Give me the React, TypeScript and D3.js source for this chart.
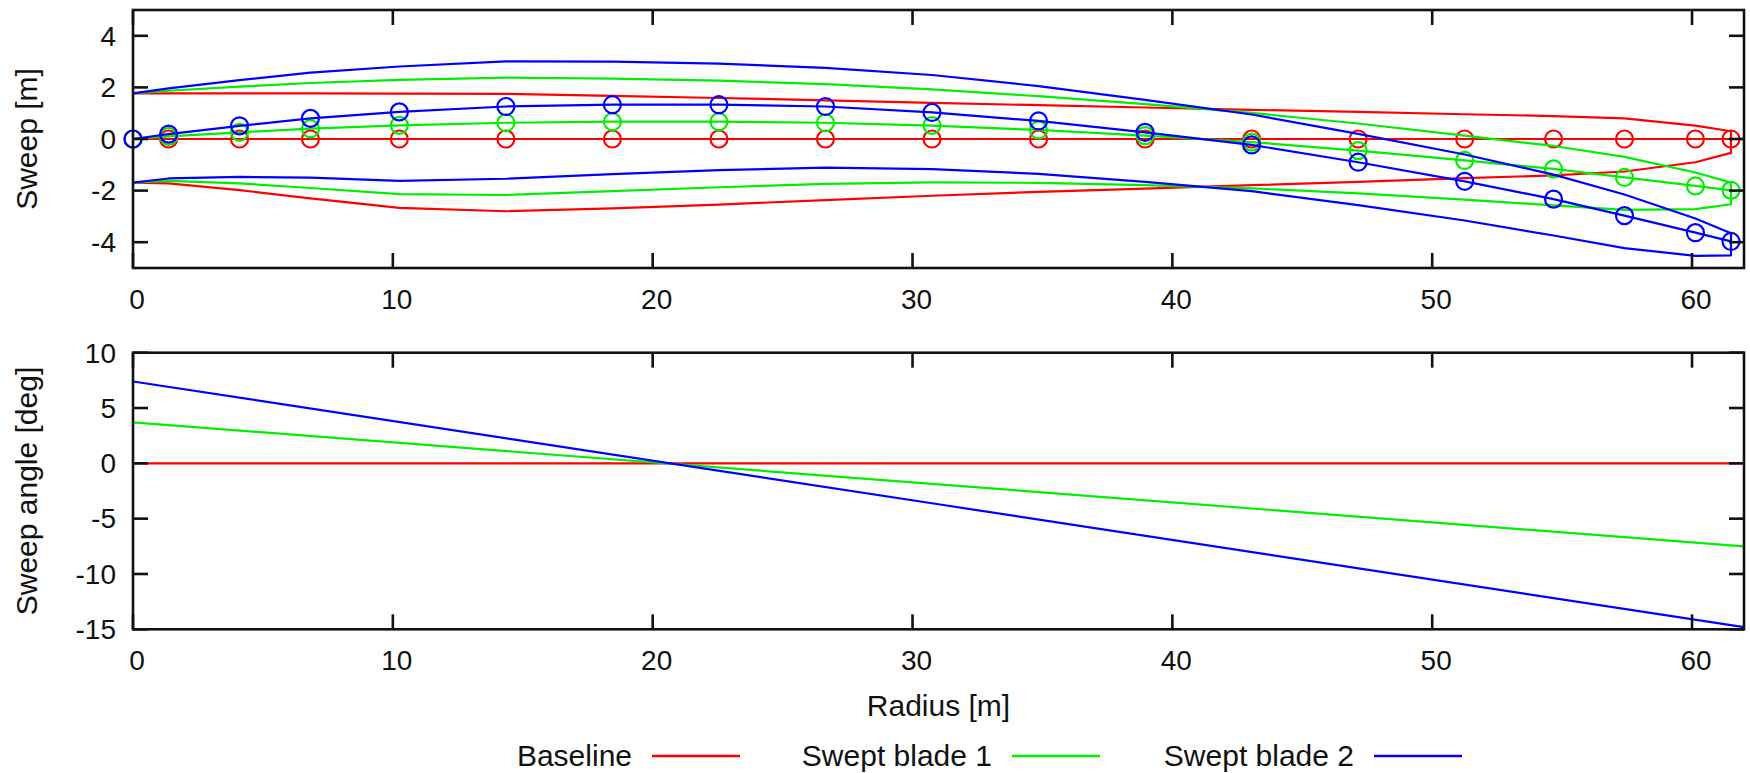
import React from 'react';
import * as d3 from 'd3';

// Radial stations [m]
const stations = [0, 1.37, 4.1, 6.83, 10.25, 14.35, 18.45, 22.55, 26.65, 30.75, 34.85, 38.95, 43.05, 47.15, 51.25, 54.67, 57.4, 60.13, 61.5];

// Baseline blade
const baseUpper = [1.77, 1.77, 1.77, 1.77, 1.76, 1.75, 1.67, 1.59, 1.5, 1.4, 1.31, 1.22, 1.13, 1.05, 0.96, 0.89, 0.8, 0.52, 0.3];
const baseCenter = [0, 0, 0, 0, 0, 0, 0, 0, 0, 0, 0, 0, 0, 0, 0, 0, 0, 0, 0];
const baseLower = [-1.69, -1.72, -1.98, -2.3, -2.67, -2.8, -2.69, -2.54, -2.37, -2.2, -2.05, -1.92, -1.79, -1.66, -1.52, -1.41, -1.26, -0.9, -0.54];

// Swept blade 1
const s1Upper = [1.77, 1.87, 2.03, 2.17, 2.29, 2.38, 2.34, 2.26, 2.13, 1.92, 1.66, 1.35, 1.01, 0.6, 0.13, -0.27, -0.69, -1.3, -1.69];
const s1Center = [0, 0.1, 0.26, 0.4, 0.53, 0.63, 0.67, 0.67, 0.63, 0.52, 0.35, 0.13, -0.12, -0.45, -0.83, -1.16, -1.49, -1.82, -1.99];
const s1Lower = [-1.69, -1.62, -1.72, -1.9, -2.14, -2.17, -2.02, -1.87, -1.74, -1.68, -1.7, -1.79, -1.91, -2.11, -2.35, -2.57, -2.75, -2.72, -2.53];

// Swept blade 2
const s2Upper = [1.77, 1.96, 2.28, 2.57, 2.81, 3.01, 3.0, 2.92, 2.76, 2.48, 2.05, 1.52, 0.95, 0.2, -0.6, -1.38, -2.15, -3.08, -3.65];
const s2Center = [0, 0.19, 0.51, 0.8, 1.05, 1.26, 1.33, 1.33, 1.26, 1.03, 0.7, 0.26, -0.23, -0.9, -1.64, -2.33, -2.97, -3.63, -3.97];
const s2Lower = [-1.69, -1.53, -1.47, -1.5, -1.62, -1.54, -1.36, -1.21, -1.11, -1.17, -1.35, -1.66, -2.02, -2.56, -3.16, -3.74, -4.23, -4.53, -4.51];

// Sweep angle [deg]
const angleR = [0, 31, 62];
const baseAngle = [0, 0, 0];
const s1Angle = [3.7, -1.9, -7.5];
const s2Angle = [7.4, -3.7, -14.8];

const xTicks = [0, 10, 20, 30, 40, 50, 60];
const y1Ticks = [-4, -2, 0, 2, 4];
const y2Ticks = [-15, -10, -5, 0, 5, 10];

const seriesNames = ['Baseline', 'Swept blade 1', 'Swept blade 2'];
const colors = ['#ff0000', '#00ee00', '#0000ff'];

const FONT = '"Liberation Sans", Arial, Helvetica, sans-serif';
const TICK_FS = 28;
const LABEL_FS = 30;

export default function App() {
  const W = 1750, H = 773;
  const L = 133, R = 1744;
  const p1 = { t: 10, b: 268 };
  const p2 = { t: 352.7, b: 629.3 };

  const x = d3.scaleLinear().domain([0, 62]).range([L, R]);
  const y1 = d3.scaleLinear().domain([-5, 5]).range([p1.b, p1.t]);
  const y2 = d3.scaleLinear().domain([-15, 10]).range([p2.b, p2.t]);

  const line1 = d3.line<[number, number]>().x(d => x(d[0])).y(d => y1(d[1]));
  const line2 = d3.line<[number, number]>().x(d => x(d[0])).y(d => y2(d[1]));

  const blades = [
    { u: baseUpper, c: baseCenter, l: baseLower },
    { u: s1Upper, c: s1Center, l: s1Lower },
    { u: s2Upper, c: s2Center, l: s2Lower },
  ];
  const angles = [baseAngle, s1Angle, s2Angle];

  const tickLen = 15;
  const frameW = 2.6;

  const frame = (yScale: d3.ScaleLinear<number, number>, yt: number[], pt: { t: number; b: number }, key: string, xLabelBase: number) => (
    <g key={key}>
      <rect x={L} y={pt.t} width={R - L} height={pt.b - pt.t} fill="none" stroke="#111" strokeWidth={frameW} />
      {xTicks.map(t => (
        <g key={'x' + t}>
          <line x1={x(t)} x2={x(t)} y1={pt.b} y2={pt.b - tickLen} stroke="#111" strokeWidth={frameW} />
          <line x1={x(t)} x2={x(t)} y1={pt.t} y2={pt.t + tickLen} stroke="#111" strokeWidth={frameW} />
          <text x={x(t) + 4} y={xLabelBase} textAnchor="middle" fontSize={TICK_FS} fontFamily={FONT} fill="#111">{t}</text>
        </g>
      ))}
      {yt.map(t => (
        <g key={'y' + t}>
          <line x1={L} x2={L + tickLen} y1={yScale(t)} y2={yScale(t)} stroke="#111" strokeWidth={frameW} />
          <line x1={R} x2={R - tickLen} y1={yScale(t)} y2={yScale(t)} stroke="#111" strokeWidth={frameW} />
          <text x={116} y={yScale(t) + TICK_FS * 0.35} textAnchor="end" fontSize={TICK_FS} fontFamily={FONT} fill="#111">{t}</text>
        </g>
      ))}
    </g>
  );

  return (
    <svg width={W} height={H} style={{ position: 'absolute', left: 0, top: 0, background: '#fff' }}>
      <defs>
        <clipPath id="clip2">
          <rect x={L} y={p2.t} width={R - L} height={p2.b - p2.t} />
        </clipPath>
      </defs>
      <rect x={0} y={0} width={W} height={H} fill="#fff" />

      {/* Top plot data */}
      {blades.map((b, k) => {
        const outline: [number, number][] = stations.map((r, i) => [r, b.u[i]] as [number, number])
          .concat(stations.map((r, i) => [r, b.l[i]] as [number, number]).reverse());
        const center: [number, number][] = stations.map((r, i) => [r, b.c[i]]);
        return (
          <g key={'b' + k}>
            <path d={line1(outline) || ''} fill="none" stroke={colors[k]} strokeWidth={2.2} strokeLinejoin="round" />
            <path d={line1(center) || ''} fill="none" stroke={colors[k]} strokeWidth={2.2} />
            {center.map((p, i) => (
              <circle key={i} cx={x(p[0])} cy={y1(p[1])} r={8.5} fill="none" stroke={colors[k]} strokeWidth={2.2} />
            ))}
          </g>
        );
      })}

      {/* Bottom plot data */}
      <g clipPath="url(#clip2)">
        {angles.map((a, k) => (
          <path key={'a' + k} d={line2(angleR.map((r, i) => [r, a[i]] as [number, number])) || ''} fill="none" stroke={colors[k]} strokeWidth={2.2} />
        ))}
      </g>

      {frame(y1, y1Ticks, p1, 'f1', 309)}
      {frame(y2, y2Ticks, p2, 'f2', 670)}

      {/* Axis labels */}
      <text transform={`translate(37,${(p1.t + p1.b) / 2}) rotate(-90)`} textAnchor="middle" fontSize={LABEL_FS} fontFamily={FONT} fill="#111">Sweep [m]</text>
      <text transform={`translate(37,${(p2.t + p2.b) / 2}) rotate(-90)`} textAnchor="middle" fontSize={LABEL_FS} fontFamily={FONT} fill="#111">Sweep angle [deg]</text>
      <text x={(L + R) / 2} y={716} textAnchor="middle" fontSize={LABEL_FS} fontFamily={FONT} fill="#111">Radius [m]</text>

      {/* Legend */}
      {seriesNames.map((n, k) => {
        const ends = [632, 992, 1354];
        return (
          <g key={'lg' + k}>
            <text x={ends[k]} y={766} textAnchor="end" fontSize={LABEL_FS} fontFamily={FONT} fill="#111">{n}</text>
            <line x1={ends[k] + 20} x2={ends[k] + 108} y1={756} y2={756} stroke={colors[k]} strokeWidth={2.5} />
          </g>
        );
      })}
    </svg>
  );
}
